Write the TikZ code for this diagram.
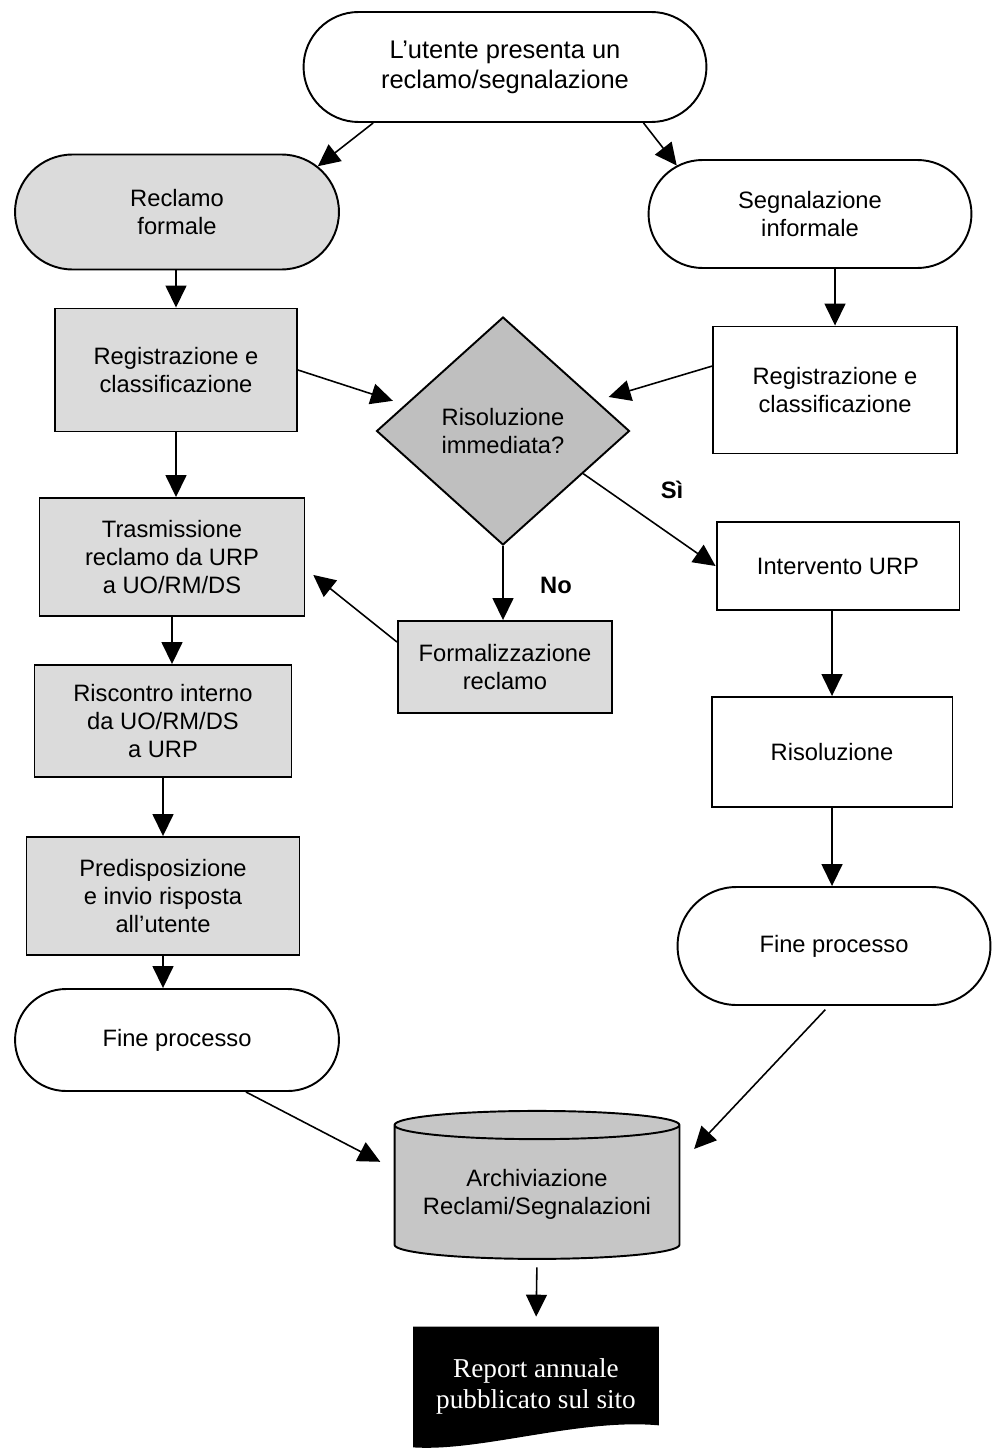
\documentclass[tikz,border=0pt]{standalone}
\usepackage{fontspec}
\setmainfont{Liberation Sans}
\newfontfamily\reportfont{Liberation Serif}
\usetikzlibrary{shapes.geometric,shapes.misc,arrows.meta,calc,backgrounds}
\tikzset{
  box/.style={draw, line width=1.1pt, align=center, font=\fontsize{13.5}{16}\selectfont, inner sep=2pt},
  term/.style={box, rounded rectangle},
  proc/.style={box, rectangle},
  stip/.style={fill=gray!28},
  flow/.style={line width=0.9pt, -{Triangle[length=4.4mm,width=4.2mm]}},
  lbl/.style={font=\bfseries\fontsize{13.5}{16}\selectfont}
}
\begin{document}
\begin{tikzpicture}[x=0.02cm, y=-0.02cm]
  \useasboundingbox (0,0) rectangle (992,1449);
  % top
  \node[term, font=\fontsize{14.5}{17}\selectfont, minimum width=8.2cm, minimum height=2.2cm] (start) at (505,67) {L'utente presenta un\\reclamo/segnalazione};
  \node[term, stip, minimum width=6.62cm, minimum height=2.3cm] (formal) at (177,212) {Reclamo\\formale};
  \node[term, minimum width=6.6cm, minimum height=2.16cm] (seg) at (810,214) {Segnalazione\\informale};
  % middle
  \node[proc, stip, minimum width=4.84cm, minimum height=2.46cm] (regL) at (176,370) {Registrazione e\\classificazione};
  \node[proc, minimum width=4.88cm, minimum height=2.54cm] (regR) at (835,390) {Registrazione e\\classificazione};
  \node[box, diamond, fill=gray!50, inner sep=0pt, minimum width=5.06cm, minimum height=4.56cm] (dia) at (503,431) {Risoluzione\\immediata?};
  \node[proc, stip, minimum width=5.3cm, minimum height=2.36cm] (trasm) at (172,557) {Trasmissione\\reclamo da URP\\a UO/RM/DS};
  \node[proc, stip, minimum width=4.28cm, minimum height=1.84cm] (formz) at (505,667) {Formalizzazione\\reclamo};
  \node[proc, minimum width=4.86cm, minimum height=1.76cm] (interv) at (838,566) {Intervento URP};
  \node[proc, stip, minimum width=5.14cm, minimum height=2.24cm] (risc) at (163,721) {Riscontro interno\\da UO/RM/DS\\a URP};
  \node[proc, minimum width=4.82cm, minimum height=2.2cm] (risol) at (832,752) {Risoluzione};
  \node[proc, stip, minimum width=5.46cm, minimum height=2.36cm] (predisp) at (163,896) {Predisposizione\\e invio risposta\\all'utente};
  % bottom
  \node[term, minimum width=6.4cm, minimum height=2.36cm] (fineR) at (834,946) {Fine processo};
  \node[term, minimum width=6.62cm, minimum height=2.04cm] (fineL) at (177,1040) {Fine processo};
  \node[box, cylinder, shape border rotate=90, aspect=0.12, fill=gray!45, minimum width=5.7cm, minimum height=2.96cm] (arch) at (537,1194) {Archiviazione\\Reclami/Segnalazioni};
  \node[text=white, align=center, font=\reportfont\fontsize{15.5}{17.5}\selectfont, minimum width=4.9cm, minimum height=1.96cm] (report) at (536,1376) {\rule{0pt}{23pt}Report annuale\\pubblicato sul sito};
  \begin{scope}[on background layer]
    \fill (report.north west) -- (report.north east) -- (report.south east)
      .. controls (580,1418) and (480,1452) .. ($(report.south west)+(0,22)$) -- cycle;
  \end{scope}
  % labels
  \node[lbl] (lblsi) at (672,490) {Sì};
  \node[lbl] (lblno) at (556,585) {No};
  % arrows
  \draw[flow] (start.203) -- (formal.18);
  \draw[flow] (start.338) -- (seg.160);
  \draw[flow] (regL.north |- formal.south) -- (regL.north);
  \draw[flow, shorten >=2.5mm] (regL.east) -- (dia.165);
  \draw[flow] (regR.north |- seg.south) -- (regR.north);
  \draw[flow, shorten >=2.5mm] (regR.169) -- (dia.18);
  \draw[flow] (regL.south) -- (regL.south |- trasm.north);
  \draw[flow] (dia.332) -- (interv.west);
  \draw[flow] (dia.south) -- (dia.south |- formz.north);
  \draw[flow, shorten >=2mm] (formz.167) -- (trasm.355);
  \draw[flow] (trasm.south) -- (trasm.south |- risc.north);
  \draw[flow] (risc.south) -- (risc.south |- predisp.north);
  \draw[flow] (predisp.south) -- (predisp.south |- fineL.north);
  \draw[flow] (risol.north |- interv.south) -- (risol.north);
  \draw[flow] (risol.south) -- (risol.south |- fineR.north);
  \draw[flow, shorten >=3mm] (fineL.323) -- (arch.170);
  \draw[flow, shorten <=1mm, shorten >=4mm] (fineR.265) -- (arch.12);
  \draw[flow, shorten <=1.5mm, shorten >=2mm] (arch.south) -- (report.north);
\end{tikzpicture}
\end{document}
